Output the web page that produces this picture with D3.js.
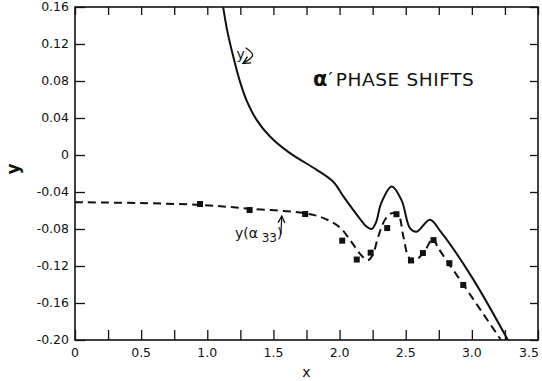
<!DOCTYPE html>
<html>
<head>
<meta charset="utf-8">
<script src="https://cdn.jsdelivr.net/npm/d3@7"></script>
<style>
  body { margin: 0; background: #fff; }
  text { font-family: "DejaVu Sans", sans-serif; fill: #111; }
</style>
</head>
<body>
<div id="chart"></div>
<script>
// solid curve "y"
const solidY = [
  [1.12, 0.16], [1.15, 0.135], [1.19, 0.11], [1.25, 0.078], [1.30, 0.058],
  [1.373, 0.038], [1.474, 0.02], [1.625, 0.002], [1.827, -0.016], [1.952, -0.029],
  [2.03, -0.045], [2.154, -0.069], [2.20, -0.077], [2.242, -0.080], [2.275, -0.073],
  [2.315, -0.052], [2.394, -0.034], [2.469, -0.049], [2.532, -0.079], [2.582, -0.083],
  [2.683, -0.070], [2.76, -0.082], [3.0, -0.132], [3.28, -0.202]
];

// dashed curve y(a33)
const dashedY = [
  [0, -0.051], [0.5, -0.052], [0.95, -0.054], [1.32, -0.058], [1.74, -0.063],
  [1.875, -0.068], [2.0, -0.078], [2.08, -0.092], [2.15, -0.106], [2.19, -0.112],
  [2.217, -0.1135], [2.25, -0.108], [2.293, -0.088], [2.343, -0.070], [2.394, -0.063],
  [2.444, -0.065], [2.482, -0.088], [2.52, -0.110], [2.557, -0.115], [2.633, -0.106],
  [2.708, -0.090], [2.74, -0.099], [2.935, -0.140], [3.23, -0.202]
];

// square data points
const points = [
  [0.945, -0.053], [1.32, -0.0595], [1.74, -0.0638], [2.02, -0.0926], [2.13, -0.113],
  [2.235, -0.1056], [2.36, -0.079], [2.43, -0.064], [2.54, -0.114], [2.63, -0.106],
  [2.71, -0.092], [2.83, -0.117], [2.935, -0.1405]
];

const xTicks = [0, 0.5, 1.0, 1.5, 2.0, 2.5, 3.0, 3.5];
const xTickLabels = ["0", "0.5", "1.0", "1.5", "2.0", "2.5", "3.0", "3.5"];
const yTicks = [0.16, 0.12, 0.08, 0.04, 0, -0.04, -0.08, -0.12, -0.16, -0.20];
const yTickLabels = ["0.16", "0.12", "0.08", "0.04", "0", "-0.04", "-0.08", "-0.12", "-0.16", "-0.20"];

const width = 542, height = 381;
const margin = { t: 7, r: 4, b: 41, l: 75 };
const w = width - margin.l - margin.r;
const h = height - margin.t - margin.b;

const x = d3.scaleLinear().domain([0, 3.5]).range([0, w]);
const y = d3.scaleLinear().domain([-0.20, 0.16]).range([h, 0]);

const svg = d3.select("#chart").append("svg")
  .attr("width", width)
  .attr("height", height);

const defs = svg.append("defs");
defs.append("clipPath").attr("id", "clip")
  .append("rect").attr("width", w).attr("height", h);
defs.append("marker")
  .attr("id", "arrow")
  .attr("viewBox", "0 0 10 10")
  .attr("refX", 9).attr("refY", 5)
  .attr("markerWidth", 7).attr("markerHeight", 7)
  .attr("orient", "auto-start-reverse")
  .append("path")
  .attr("d", "M1,1 L9,5 L1,9")
  .attr("fill", "none")
  .attr("stroke", "#111")
  .attr("stroke-width", 1.6);

const g = svg.append("g").attr("transform", "translate(" + margin.l + "," + margin.t + ")");

// axes: ticks point inward on all four sides
const minorX = d3.range(0, 3.51, 0.25);

g.append("g").attr("transform", "translate(0," + h + ")")
  .call(d3.axisBottom(x).tickValues(minorX).tickSize(-10).tickFormat(""))
  .call(a => a.select(".domain").remove());
g.append("g")
  .call(d3.axisTop(x).tickValues(minorX).tickSize(-8).tickFormat(""))
  .call(a => a.select(".domain").remove());
g.append("g")
  .call(d3.axisLeft(y).tickValues(yTicks).tickSize(-10).tickFormat(""))
  .call(a => a.select(".domain").remove());
g.append("g").attr("transform", "translate(" + w + ",0)")
  .call(d3.axisRight(y).tickValues(yTicks).tickSize(-8).tickFormat(""))
  .call(a => a.select(".domain").remove());
g.selectAll(".tick line").attr("stroke", "#111").attr("stroke-width", 1.3);

// frame
g.append("rect")
  .attr("width", w).attr("height", h)
  .attr("fill", "none").attr("stroke", "#111").attr("stroke-width", 1.6);

// tick labels
g.selectAll(".xlab").data(xTicks).join("text")
  .attr("class", "xlab")
  .attr("x", (d, i) => i === xTicks.length - 1 ? x(d) + 1 : x(d))
  .attr("y", h + 17)
  .attr("text-anchor", (d, i) => i === xTicks.length - 1 ? "end" : "middle")
  .attr("font-size", 12.5)
  .text((d, i) => xTickLabels[i]);

g.selectAll(".ylab").data(yTicks).join("text")
  .attr("class", "ylab")
  .attr("x", -6)
  .attr("y", d => y(d))
  .attr("dy", "0.35em")
  .attr("text-anchor", "end")
  .attr("font-size", 12.5)
  .text((d, i) => yTickLabels[i]);

// axis titles
svg.append("text")
  .attr("x", margin.l + x(1.75))
  .attr("y", 377)
  .attr("text-anchor", "middle")
  .attr("font-size", 14)
  .text("x");
svg.append("text")
  .attr("transform", "translate(19," + (margin.t + y(-0.015)) + ") rotate(-90)")
  .attr("text-anchor", "middle")
  .attr("font-size", 17)
  .attr("font-weight", "bold")
  .text("y");

// curves
const plot = g.append("g").attr("clip-path", "url(#clip)");
const line = d3.line()
  .x(d => x(d[0]))
  .y(d => y(d[1]))
  .curve(d3.curveCatmullRom.alpha(0.5));

plot.append("path")
  .datum(solidY)
  .attr("d", line)
  .attr("fill", "none")
  .attr("stroke", "#111")
  .attr("stroke-width", 2);

plot.append("path")
  .datum(dashedY)
  .attr("d", line)
  .attr("fill", "none")
  .attr("stroke", "#111")
  .attr("stroke-width", 2)
  .attr("stroke-dasharray", "8,5");

const sq = 6;
g.selectAll(".pt").data(points).join("rect")
  .attr("class", "pt")
  .attr("x", d => x(d[0]) - sq / 2)
  .attr("y", d => y(d[1]) - sq / 2)
  .attr("width", sq)
  .attr("height", sq)
  .attr("fill", "#111");

// annotations
g.append("text")
  .attr("x", x(1.22)).attr("y", y(0.104))
  .attr("font-size", 14)
  .text("y");
const arrowLine = d3.line().x(d => x(d[0])).y(d => y(d[1])).curve(d3.curveCatmullRom);
g.append("path")
  .datum([[1.29, 0.116], [1.343, 0.108], [1.27, 0.099]])
  .attr("d", arrowLine)
  .attr("fill", "none").attr("stroke", "#111").attr("stroke-width", 1.3)
  .attr("marker-end", "url(#arrow)");

const lab2 = g.append("text")
  .attr("x", x(1.209)).attr("y", y(-0.0897))
  .attr("font-size", 14);
lab2.append("tspan").text("y(α");
lab2.append("tspan").attr("dy", 4).attr("font-size", 12).text(" 33");
lab2.append("tspan").attr("dy", -4).text(")");
g.append("path")
  .datum([[1.557, -0.0854], [1.563, -0.066]])
  .attr("d", arrowLine)
  .attr("fill", "none").attr("stroke", "#111").attr("stroke-width", 1.2)
  .attr("marker-end", "url(#arrow)");

const title = g.append("text")
  .attr("x", x(1.8)).attr("y", y(0.0745))
  .attr("font-size", 18.5);
title.append("tspan").attr("font-weight", "bold").attr("font-size", 21).text("α");
title.append("tspan").attr("dx", 1).attr("dy", -1).text("′");
title.append("tspan").attr("dx", 3).attr("dy", 1).attr("letter-spacing", 0.6).text("PHASE SHIFTS");
</script>
</body>
</html>
